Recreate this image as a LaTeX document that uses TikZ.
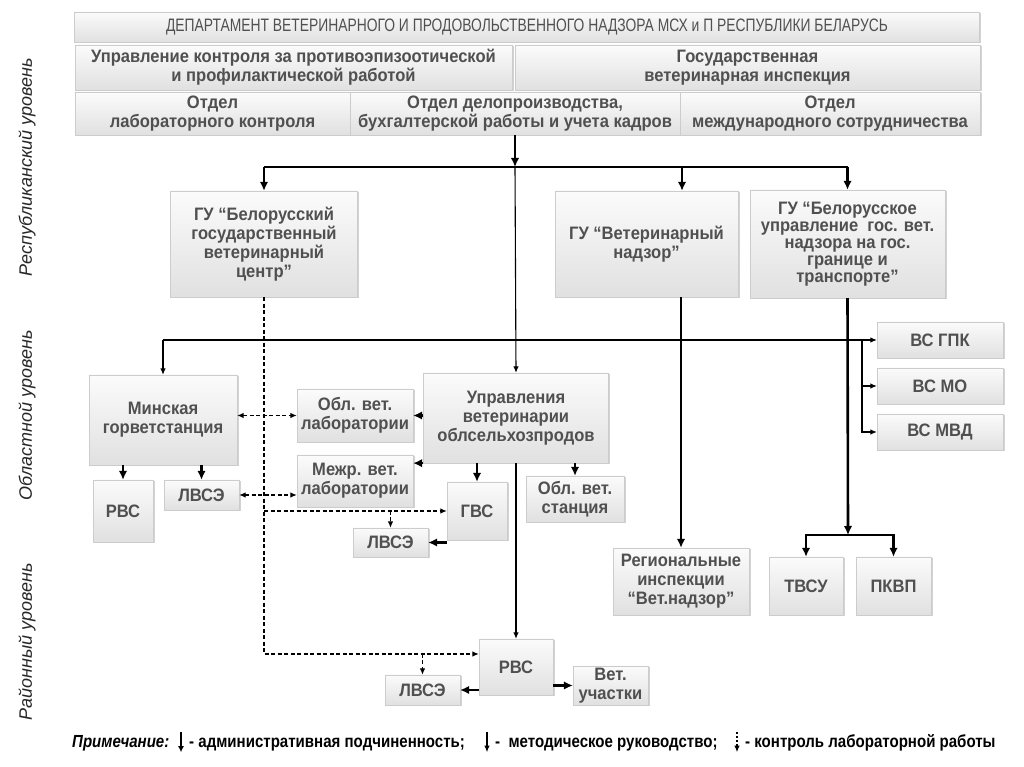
\documentclass[tikz,border=0pt]{standalone}
\usepackage{fontspec}
\setmainfont{Liberation Sans}
\newfontfamily\boxfont[FakeStretch=0.92]{Liberation Sans}
\newfontfamily\narrowfont[FakeStretch=0.77]{Liberation Sans}
\newfontfamily\legfont[FakeStretch=0.86]{Liberation Sans}
\usetikzlibrary{arrows.meta,shadows}
\definecolor{boxtext}{HTML}{505050}

\begin{document}
\begin{tikzpicture}
  [x=1pt,y=1pt,
   box/.style={rectangle,draw=gray!40,line width=0.3pt,top color=gray!3,bottom color=gray!24,
     drop shadow={shadow xshift=1.5pt,shadow yshift=-1.5pt,opacity=0.35},
     text=boxtext,align=center,inner sep=1pt,font=\boxfont\bfseries\fontsize{18}{19}\selectfont},
   level/.style={rotate=90,font=\itshape\fontsize{18}{18}\selectfont,text=black!85},
   legtext/.style={anchor=base west,inner sep=0pt,font=\legfont\bfseries\fontsize{17.5}{18}\selectfont},
   adm/.style={line width=2.6pt,>={Latex[length=9pt,width=8.5pt]}},
   met/.style={line width=1.1pt,>={Latex[length=6.5pt,width=5.5pt]}},
   lab/.style={line width=1.2pt,dash pattern=on 4pt off 2.5pt,>={Latex[length=6.5pt,width=5.5pt]}},
   legsym/.style={minimum width=2pt,minimum height=20pt,inner sep=0pt}]
  \useasboundingbox (0,0) rectangle (1024,767);

  % levels
  \node[level] (lv1) at (27,600) {Республиканский уровень};
  \node[level] (lv2) at (27,352) {Областной уровень};
  \node[level] (lv3) at (27,125) {Районный уровень};

  % republican level
  \node[box,minimum width=905,minimum height=30,font=\narrowfont\fontsize{18}{18}\selectfont] (dep) at (527,740)
    {ДЕПАРТАМЕНТ ВЕТЕРИНАРНОГО И ПРОДОВОЛЬСТВЕННОГО НАДЗОРА МСХ и П РЕСПУБЛИКИ БЕЛАРУСЬ};
  \node[box,minimum width=437,minimum height=45] (upr) at (293.5,699.5)
    {Управление контроля за противоэпизоотической\\и профилактической работой};
  \node[box,minimum width=465,minimum height=45] (gvi) at (747.5,699.5)
    {Государственная\\ветеринарная инспекция};
  \node[box,minimum width=275,minimum height=43] (olk) at (212.5,653.5)
    {Отдел\\лабораторного контроля};
  \node[box,minimum width=330,minimum height=43] (odb) at (515,653.5)
    {Отдел делопроизводства,\\бухгалтерской работы и учета кадров};
  \node[box,minimum width=300,minimum height=43] (omc) at (830,653.5)
    {Отдел\\международного сотрудничества};

  \node[box,minimum width=187,minimum height=106] (bgvc) at (264,523)
    {ГУ “Белорусский\\государственный\\ветеринарный\\центр”};
  \node[box,minimum width=183,minimum height=106] (vn) at (646.5,523)
    {ГУ “Ветеринарный\\надзор”};
  \node[box,minimum width=195,minimum height=108,font=\boxfont\bfseries\fontsize{18}{17}\selectfont] (bu) at (847.5,523)
    {ГУ “Белорусское\\управление \ гос. вет.\\надзора на гос.\\границе и\\транспорте”};

  % regional level
  \node[box,minimum width=126,minimum height=36] (vsgpk) at (940,427) {ВС ГПК};
  \node[box,minimum width=126,minimum height=36] (vsmo) at (940,381) {ВС МО};
  \node[box,minimum width=126,minimum height=36] (vsmvd) at (940,335) {ВС МВД};

  \node[box,minimum width=148,minimum height=90] (mg) at (163,347) {Минская\\горветстанция};
  \node[box,minimum width=185,minimum height=90] (uvo) at (516,349)
    {Управления\\ветеринарии\\облсельхозпродов};
  \node[box,minimum width=116,minimum height=53] (olab) at (355,351.5) {Обл. вет.\\лаборатории};
  \node[box,minimum width=116,minimum height=52] (mlab) at (355,286) {Межр. вет.\\лаборатории};
  \node[box,minimum width=60,minimum height=62] (rvs1) at (123,256) {РВС};
  \node[box,minimum width=75,minimum height=30] (lvse1) at (201.5,272) {ЛВСЭ};
  \node[box,minimum width=60,minimum height=58] (gvs) at (477,256) {ГВС};
  \node[box,minimum width=75,minimum height=29] (lvse2) at (390.5,224.5) {ЛВСЭ};
  \node[box,minimum width=98,minimum height=46] (ovs) at (575,268) {Обл. вет.\\станция};

  % district level
  \node[box,minimum width=136,minimum height=67] (reg) at (681,185.5)
    {Региональные\\инспекции\\“Вет.надзор”};
  \node[box,minimum width=74,minimum height=58] (tvsu) at (806,181) {ТВСУ};
  \node[box,minimum width=75,minimum height=58] (pkvp) at (893.5,181) {ПКВП};
  \node[box,minimum width=74,minimum height=56] (rvs2) at (516,100) {РВС};
  \node[box,minimum width=75,minimum height=30] (lvse3) at (422.5,77) {ЛВСЭ};
  \node[box,minimum width=75,minimum height=39] (vu) at (610.5,81.5) {Вет.\\участки};

  \coordinate (bus) at (515,600);
  \coordinate (c2) at (682,600);
  \coordinate (br) at (862,427);
  \coordinate (sp) at (848,232);

  % administrative
  \draw[adm,->] (odb.south) -- (bus);
  \draw[adm] (bus -| bgvc.north) -- (bus -| bu.north);
  \draw[adm,->] (bus -| bgvc.north) -- (bgvc.north);
  \draw[adm,->] (c2) -- (c2 |- vn.north);
  \draw[adm,->] (bus -| bu.north) -- (bu.north);
  \draw[adm,->] (vn.south -| reg.north) -- (reg.north);
  \draw[adm,->] (bu.south) -- (sp);
  \draw[adm,->] (sp) -| (tvsu.north);
  \draw[adm,->] (sp) -| (pkvp.north);
  \draw[adm,->] (mg.south -| rvs1.north) -- (rvs1.north);
  \draw[adm,->] (mg.south -| lvse1.north) -- (lvse1.north);
  \draw[adm,->] (uvo.west |- olab.east) -- (olab.east);
  \draw[adm,->] (uvo.south west) -- (uvo.south west -| mlab.east);
  \draw[adm,->] (uvo.south -| gvs.north) -- (gvs.north);
  \draw[adm,->] (uvo.south -| ovs.north) -- (ovs.north);
  \draw[adm,->] (gvs.west |- lvse2.east) -- (lvse2.east);
  \draw[adm,->] (rvs2.west |- lvse3.east) -- (lvse3.east);
  \draw[adm,->] (rvs2.east |- vu.west) -- (vu.west);

  % methodical
  \draw[met,->] (bus) -- (uvo.north);
  \draw[met,->] (mg.north |- vsgpk.west) -- (vsgpk.west);
  \draw[met,->] (mg.north |- vsgpk.west) -- (mg.north);
  \draw[met,->] (br) |- (vsmo.west);
  \draw[met,->] (br) |- (vsmvd.west);
  \draw[met,->] (uvo.south) -- (rvs2.north);

  % laboratory control
  \draw[lab,->] (bgvc.south) |- ([yshift=13pt]rvs2.west);
  \draw[lab,->] ([yshift=13pt]rvs2.west -| lvse3.north) -- (lvse3.north);
  \draw[lab,->] (bgvc.south |- gvs.west) -- (gvs.west);
  \draw[lab,->] (lvse2.north |- gvs.west) -- (lvse2.north);
  \draw[lab,<->] (mg.east |- olab.west) -- (olab.west);
  \draw[lab,<->] (lvse1.east) -- (lvse1.east -| mlab.west);

  % note
  \node[legtext,font=\legfont\bfseries\itshape\fontsize{17.5}{18}\selectfont] (leg0) at (72,19) {Примечание:};
  \node[legsym] (s1) at (181,25) {};
  \node[legtext] (leg1) at (189,19) {- административная подчиненность;};
  \node[legsym] (s2) at (487,25) {};
  \node[legtext] (leg2) at (495,19) {- \ методическое руководство;};
  \node[legsym] (s3) at (737,25) {};
  \node[legtext] (leg3) at (745,19) {- контроль лабораторной работы};
  \draw[adm,->,>={Latex[length=6pt,width=6pt]}] (s1.north) -- (s1.south);
  \draw[met,->] (s2.north) -- (s2.south);
  \draw[lab,->,dash pattern=on 2.5pt off 1.5pt] (s3.north) -- (s3.south);
\end{tikzpicture}
\end{document}
